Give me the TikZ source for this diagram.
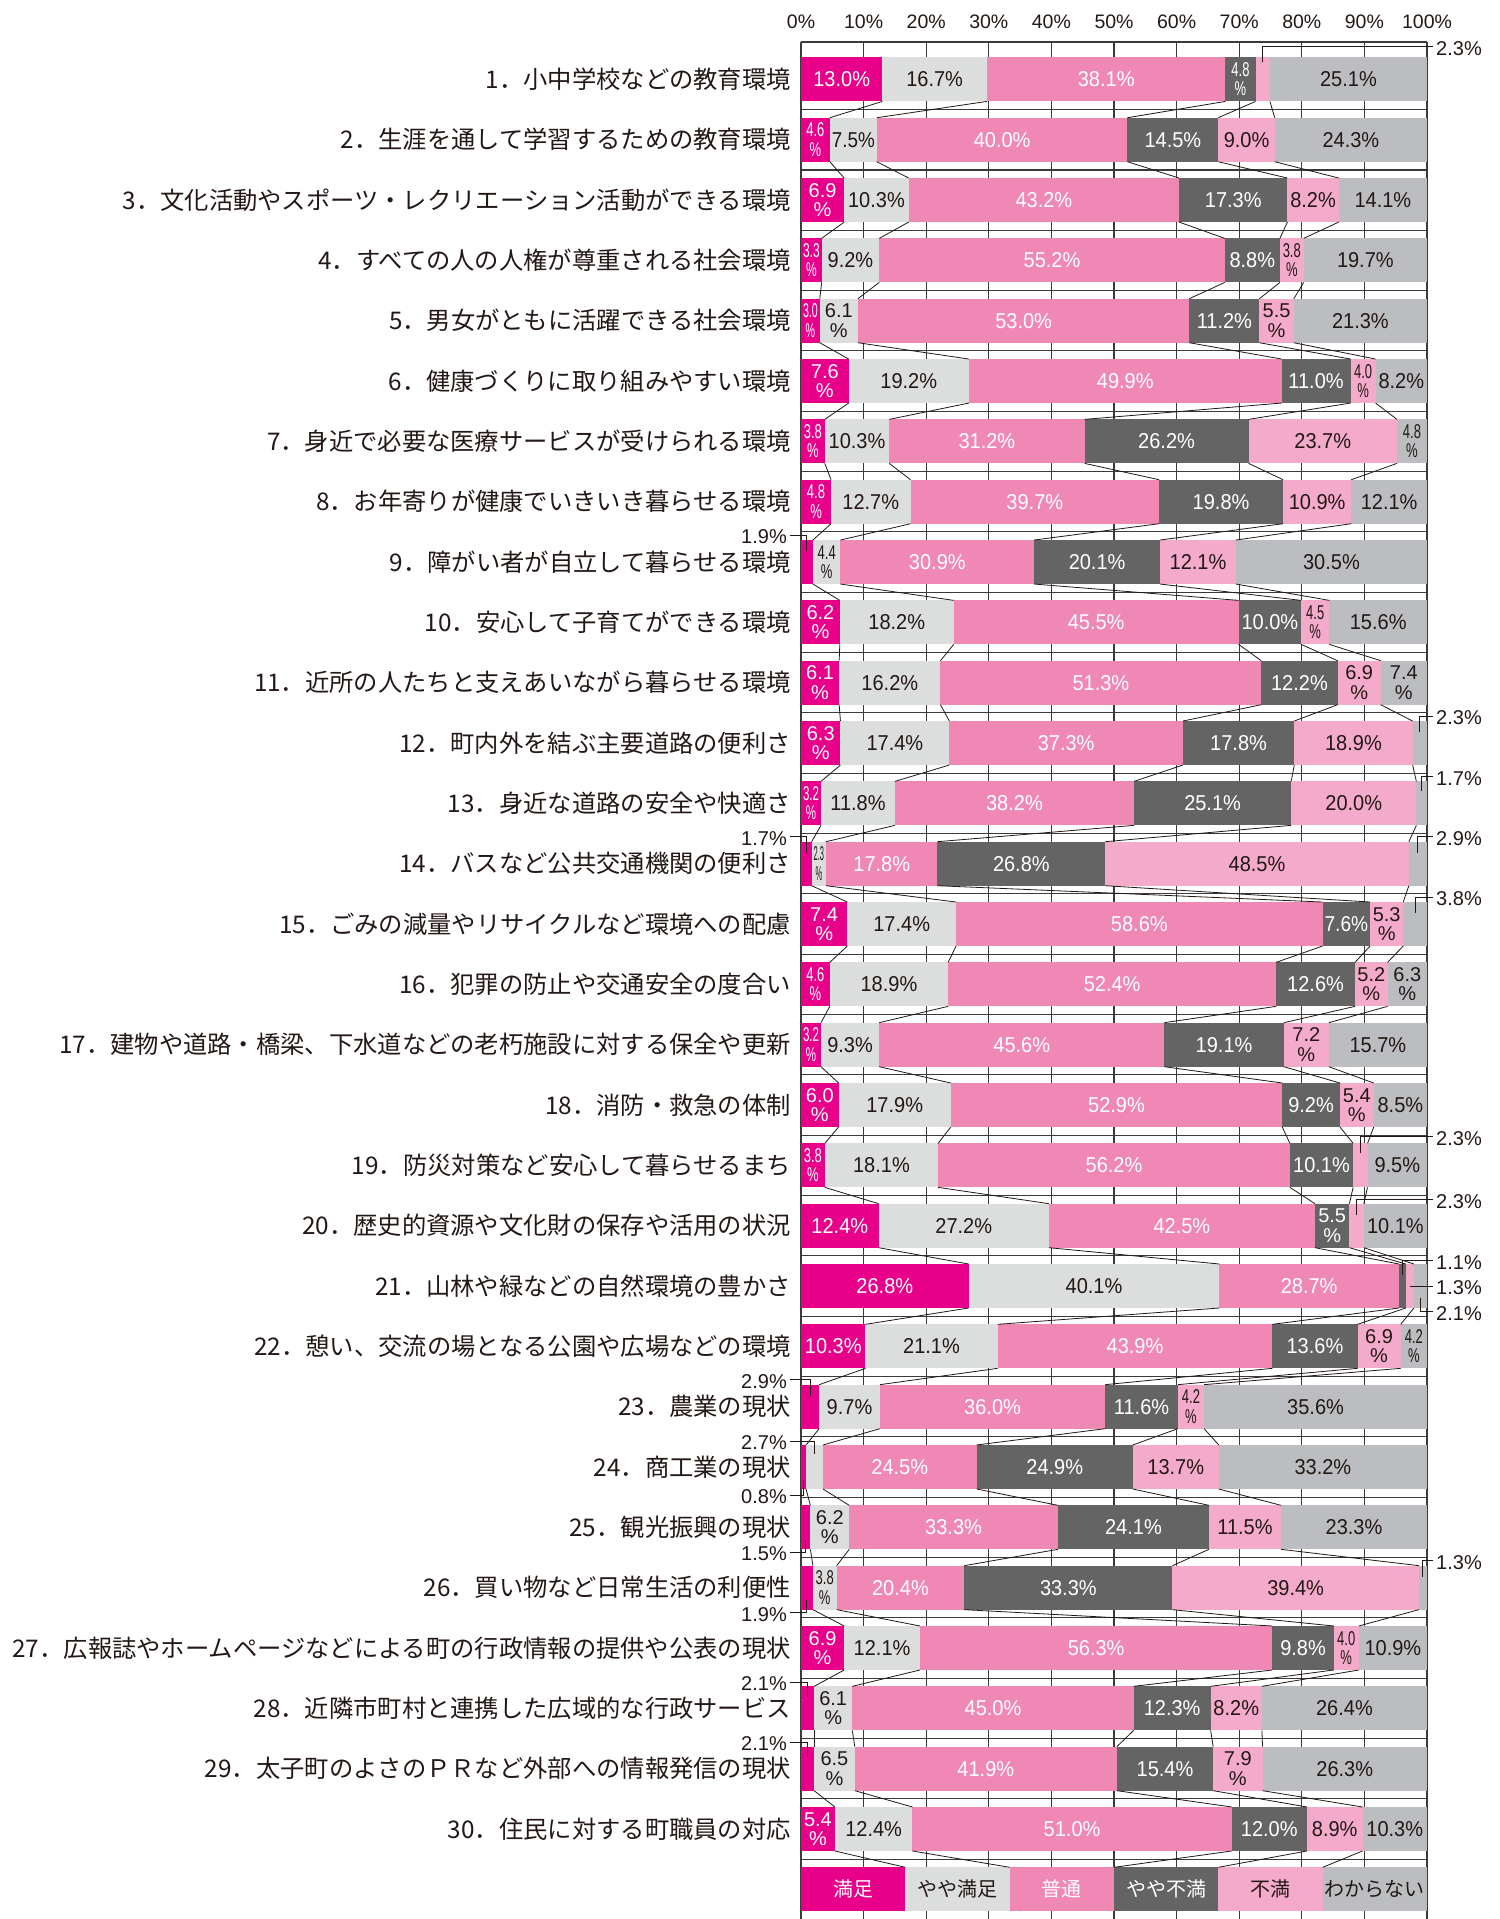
\documentclass[tikz,border=0pt]{standalone}
\usepackage{fontspec}
\usepackage{graphicx}
\setmainfont{Liberation Sans}
\newfontfamily\jpfont{Noto Sans CJK JP}
\usetikzlibrary{calc}
\definecolor{cMan}{HTML}{E9008A}
\definecolor{cYaMan}{HTML}{DCDDDD}
\definecolor{cFutsu}{HTML}{F088B6}
\definecolor{cYaFu}{HTML}{646464}
\definecolor{cFu}{HTML}{F4ABCB}
\definecolor{cWaka}{HTML}{BCBDC0}
\definecolor{ink}{HTML}{231815}
\definecolor{gridc}{HTML}{3A3A3A}
\colorlet{fill1}{cMan}\colorlet{fill2}{cYaMan}\colorlet{fill3}{cFutsu}
\colorlet{fill4}{cYaFu}\colorlet{fill5}{cFu}\colorlet{fill6}{cWaka}
\colorlet{txt1}{white}\colorlet{txt2}{ink}\colorlet{txt3}{white}
\colorlet{txt4}{white}\colorlet{txt5}{ink}\colorlet{txt6}{ink}
\newcommand\leadR[5]{%
  \path (#1) ++(0,#2) coordinate (#5h);
  \draw[lead] ($(#1)+(0,#3)$) -- (#5h) -- (#5h -| rx);
  \node[leadlab,anchor=west] (#5) at ($(#5h -| rx)+(3,2)$) {#4};}
\newcommand\leadL[5]{%
  \path (#1) ++(0,#2) coordinate (#5h);
  \draw[lead] ($(#1)+(0,#3)$) -- (#5h) -- (#5h -| lx);
  \node[leadlab,anchor=east] (#5) at ($(#5h -| lx)+(-3,1.5)$) {#4};}
\begin{document}
\begin{tikzpicture}[x=1pt,y=-1pt,
  gridline/.style={draw=gridc,line width=1.2pt},
  conn/.style={draw=ink,line width=0.8pt},
  lead/.style={draw=ink,line width=1pt},
  barlab/.style={font=\fontsize{21.5}{24}\selectfont,inner sep=0pt},
  barlabtwo/.style={font=\fontsize{20}{24}\selectfont,inner sep=0pt},
  leadlab/.style={font=\fontsize{20}{24}\selectfont,inner sep=0pt,text=ink},
  axlab/.style={font=\fontsize{19.5}{24}\selectfont,inner sep=0pt,text=ink},
  catlab/.style={font=\jpfont\fontsize{24.3}{28}\selectfont,inner sep=0pt,text=ink,anchor=east},
  leglab/.style={font=\jpfont\fontsize{20}{24}\selectfont,inner sep=0pt}]
\useasboundingbox (0,0) rectangle (1499,1919);
\fill[white] (0,0) rectangle (1499,1919);
% grid
\foreach \i in {0,...,10} {
  \draw[gridline] ({801+62.6*\i},42) -- ({801+62.6*\i},1919);
  \pgfmathtruncatemacro\p{10*\i}
  \node[axlab] (ax\i) at ({801+62.6*\i},22) {\p\%};
}
\draw[gridline] (801,42) -- (1427,42);
\foreach \r in {1,...,30} {
  \draw[gridline] (801,{79.4+(\r-1)*60.33+30.17}) -- (1427,{79.4+(\r-1)*60.33+30.17});
}
\coordinate (rx) at (1433,0);
\coordinate (lx) at (790,0);
% bars
\foreach \vals [count=\r] in {
{13.0/1,16.7/1,38.1/1,4.8/2,2.3/0,25.1/1},
{4.6/2,7.5/1,40.0/1,14.5/1,9.0/1,24.3/1},
{6.9/2,10.3/1,43.2/1,17.3/1,8.2/1,14.1/1},
{3.3/2,9.2/1,55.2/1,8.8/1,3.8/2,19.7/1},
{3.0/2,6.1/2,53.0/1,11.2/1,5.5/2,21.3/1},
{7.6/2,19.2/1,49.9/1,11.0/1,4.0/2,8.2/1},
{3.8/2,10.3/1,31.2/1,26.2/1,23.7/1,4.8/2},
{4.8/2,12.7/1,39.7/1,19.8/1,10.9/1,12.1/1},
{1.9/0,4.4/2,30.9/1,20.1/1,12.1/1,30.5/1},
{6.2/2,18.2/1,45.5/1,10.0/1,4.5/2,15.6/1},
{6.1/2,16.2/1,51.3/1,12.2/1,6.9/2,7.4/2},
{6.3/2,17.4/1,37.3/1,17.8/1,18.9/1,2.3/0},
{3.2/2,11.8/1,38.2/1,25.1/1,20.0/1,1.7/0},
{1.7/0,2.3/2,17.8/1,26.8/1,48.5/1,2.9/0},
{7.4/2,17.4/1,58.6/1,7.6/1,5.3/2,3.8/0},
{4.6/2,18.9/1,52.4/1,12.6/1,5.2/2,6.3/2},
{3.2/2,9.3/1,45.6/1,19.1/1,7.2/2,15.7/1},
{6.0/2,17.9/1,52.9/1,9.2/1,5.4/2,8.5/1},
{3.8/2,18.1/1,56.2/1,10.1/1,2.3/0,9.5/1},
{12.4/1,27.2/1,42.5/1,5.5/2,2.3/0,10.1/1},
{26.8/1,40.1/1,28.7/1,1.1/0,1.3/0,2.1/0},
{10.3/1,21.1/1,43.9/1,13.6/1,6.9/2,4.2/2},
{2.9/0,9.7/1,36.0/1,11.6/1,4.2/2,35.6/1},
{0.8/0,2.7/0,24.5/1,24.9/1,13.7/1,33.2/1},
{1.5/0,6.2/2,33.3/1,24.1/1,11.5/1,23.3/1},
{1.9/0,3.8/2,20.4/1,33.3/1,39.4/1,1.3/0},
{6.9/2,12.1/1,56.3/1,9.8/1,4.0/2,10.9/1},
{2.1/0,6.1/2,45.0/1,12.3/1,8.2/1,26.4/1},
{2.1/0,6.5/2,41.9/1,15.4/1,7.9/2,26.3/1},
{5.4/2,12.4/1,51.0/1,12.0/1,8.9/1,10.3/1}} {
  \xdef\tot{0}
  \foreach \v/\ty in \vals {\pgfmathparse{\tot+\v}\xdef\tot{\pgfmathresult}}
  \pgfmathsetmacro\yc{79.4+(\r-1)*60.33}
  \pgfmathsetmacro\yt{\yc-22}
  \pgfmathsetmacro\yb{\yc+22}
  \xdef\cum{0}
  \foreach \v/\ty [count=\k] in \vals {
    \pgfmathsetmacro\xa{801+626*(\cum/\tot)}
    \pgfmathparse{\cum+\v}\xdef\cum{\pgfmathresult}
    \pgfmathsetmacro\xb{801+626*(\cum/\tot)}
    \pgfmathsetmacro\xc{(\xa+\xb)/2}
    \pgfmathsetmacro\w{\xb-\xa}
    \fill[fill\k] (\xa,\yt) rectangle (\xb,\yb);
    \coordinate (st\r-\k) at (\xc,\yt);
    \coordinate (sb\r-\k) at (\xc,\yb);
    \coordinate (bt\r-\k) at (\xb,\yt);
    \coordinate (bb\r-\k) at (\xb,\yb);
    \ifnum\ty=1
      \pgfmathsetmacro\wz{\v>9.95 ? 56.7 : 45.6}
      \pgfmathsetmacro\sx{0.93*min(1,(\w-4)/\wz)}
      \node[barlab,text=txt\k] (n\r-\k) at (\xc,\yc) {\scalebox{\sx}[1]{\v\%}};
    \fi
    \ifnum\ty=2
      \pgfmathsetmacro\sx{\w<31 ? min(0.65,(\w-4)/27.8) : 1}
      \node[barlabtwo,text=txt\k] (n\r-\k) at ({\xc},{\yc-9.7}) {\scalebox{\sx}[1]{\v}};
      \node[barlabtwo,text=txt\k] (p\r-\k) at ({\xc},{\yc+9.7}) {\scalebox{\sx}[1]{\%}};
    \fi
  }
}
% category labels
\foreach \txt [count=\r] in {
1．小中学校などの教育環境,
2．生涯を通して学習するための教育環境,
3．文化活動やスポーツ・レクリエーション活動ができる環境,
4．すべての人の人権が尊重される社会環境,
5．男女がともに活躍できる社会環境,
6．健康づくりに取り組みやすい環境,
7．身近で必要な医療サービスが受けられる環境,
8．お年寄りが健康でいきいき暮らせる環境,
9．障がい者が自立して暮らせる環境,
10．安心して子育てができる環境,
11．近所の人たちと支えあいながら暮らせる環境,
12．町内外を結ぶ主要道路の便利さ,
13．身近な道路の安全や快適さ,
14．バスなど公共交通機関の便利さ,
15．ごみの減量やリサイクルなど環境への配慮,
16．犯罪の防止や交通安全の度合い,
17．建物や道路・橋梁、下水道などの老朽施設に対する保全や更新,
18．消防・救急の体制,
19．防災対策など安心して暮らせるまち,
20．歴史的資源や文化財の保存や活用の状況,
21．山林や緑などの自然環境の豊かさ,
22．憩い、交流の場となる公園や広場などの環境,
23．農業の現状,
24．商工業の現状,
25．観光振興の現状,
26．買い物など日常生活の利便性,
27．広報誌やホームページなどによる町の行政情報の提供や公表の現状,
28．近隣市町村と連携した広域的な行政サービス,
29．太子町のよさのＰＲなど外部への情報発信の現状,
30．住民に対する町職員の対応} {
  \node[catlab] (cat\r) at (791,{79.4+(\r-1)*60.33}) {\txt};
}
% legend
\foreach \name [count=\k] in {満足,やや満足,普通,やや不満,不満,わからない} {
  \pgfmathsetmacro\xa{801+626*(\k-1)/6}
  \pgfmathsetmacro\xb{801+626*\k/6}
  \fill[fill\k] (\xa,1867.3) rectangle (\xb,1911.3);
  \node[leglab,text=txt\k] (lg\k) at ({(\xa+\xb)/2},1889.3) {\name};
  \coordinate (lt\k) at (\xb,1867.3);
}
% connectors
\foreach \r in {1,...,29} {
  \pgfmathtruncatemacro\rn{\r+1}
  \foreach \k in {1,...,5} {\draw[conn] (bb\r-\k) -- (bt\rn-\k);}
}
\foreach \k in {1,...,5} {\draw[conn] (bb30-\k) -- (lt\k);}
% leaders right
\leadR{st1-5}{-10.7}{5}{2.3\%}{LR1}
\leadR{st12-6}{-5}{11}{2.3\%}{LR12}
\leadR{st13-6}{-5}{10}{1.7\%}{LR13}
\leadR{st14-6}{-5}{11}{2.9\%}{LR14}
\leadR{st15-6}{-5}{11}{3.8\%}{LR15}
\leadR{st19-5}{-6.5}{10}{2.3\%}{LR19}
\leadR{st20-5}{-4}{11}{2.3\%}{LR20}
\leadR{st21-4}{-3.5}{11}{1.1\%}{LR21a}
\leadR{st21-5}{22}{22}{1.3\%}{LR21b}
\leadR{st21-6}{47.6}{33.6}{2.1\%}{LR21c}
\leadR{st26-6}{-5}{11}{1.3\%}{LR26}
% leaders left
\leadL{st9-1}{-5}{11}{1.9\%}{LL9}
\leadL{st14-1}{-5}{11}{1.7\%}{LL14}
\leadL{st23-1}{-5}{11}{2.9\%}{LL23}
\leadL{st24-2}{-3.5}{9}{2.7\%}{LL24a}
\leadL{sb24-1}{6}{-9}{0.8\%}{LL24b}
\leadL{sb25-1}{3}{-9}{1.5\%}{LL25}
\leadL{sb26-1}{3}{-10}{1.9\%}{LL26}
\leadL{st28-1}{-4.3}{10.7}{2.1\%}{LL28}
\leadL{st29-1}{-4.3}{10.7}{2.1\%}{LL29}
\end{tikzpicture}
\end{document}
